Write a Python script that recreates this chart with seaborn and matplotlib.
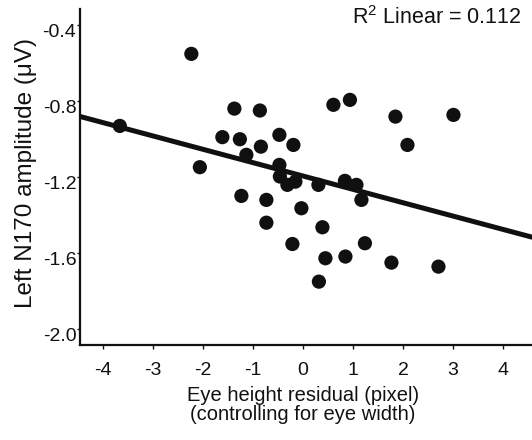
import matplotlib
matplotlib.use("Agg")
import matplotlib.pyplot as plt
import matplotlib.transforms as mtransforms
import seaborn as sns
import pandas as pd

# Data
eye_height_residual = [-3.66, -2.23, -2.06, -1.37, -0.86, -1.61, -1.26, -0.84, -1.13,
                       -0.47, -0.19, -0.47, -0.46, -0.31, -0.15, -1.23, -0.73, -0.03,
                       -0.73, -0.21, 0.31, 0.39, 0.45, 0.32, 0.61, 0.94, 0.84, 1.07,
                       1.17, 1.24, 0.85, 1.85, 2.09, 1.77, 2.71, 3.01]
left_n170_amplitude = [-0.932, -0.553, -1.149, -0.841, -0.851, -0.991, -1.002, -1.041, -1.084,
                       -0.979, -1.032, -1.137, -1.198, -1.242, -1.225, -1.300, -1.321, -1.365,
                       -1.441, -1.553, -1.242, -1.465, -1.628, -1.751, -0.821, -0.795, -1.221, -1.242,
                       -1.321, -1.549, -1.619, -0.883, -1.032, -1.651, -1.672, -0.874]
x_ticks = [-4, -3, -2, -1, 0, 1, 2, 3, 4]
y_ticks = [-0.4, -0.8, -1.2, -1.6, -2.0]
r2_text = r"R$^2$ Linear = 0.112"

df = pd.DataFrame({"x": eye_height_residual, "y": left_n170_amplitude})

sns.set_style("white")
plt.rcParams["font.family"] = ["Liberation Sans", "DejaVu Sans"]
plt.rcParams["mathtext.fontset"] = "custom"
plt.rcParams["mathtext.rm"] = "Liberation Sans"
plt.rcParams["axes.unicode_minus"] = False
plt.rcParams["text.color"] = "#111111"
plt.rcParams["axes.labelcolor"] = "#111111"
plt.rcParams["xtick.color"] = "#111111"
plt.rcParams["ytick.color"] = "#111111"

fig = plt.figure(figsize=(5.32, 4.40), dpi=100)
ax = fig.add_axes([0.150, 0.216, 0.85, 0.764])
ax.set_xlim(-4.46, 4.58)
ax.set_ylim(-2.084, -0.316)

sns.regplot(data=df, x="x", y="y", ax=ax, ci=None, truncate=False,
            scatter_kws=dict(s=105, color="#101010", edgecolor="none", alpha=1),
            line_kws=dict(color="#101010", lw=3.6))

ax.set_xlim(-4.46, 4.58)
ax.set_ylim(-2.084, -0.316)
for s in ["top", "right"]:
    ax.spines[s].set_visible(False)
for s in ["left", "bottom"]:
    ax.spines[s].set_color("#111111")
    ax.spines[s].set_linewidth(1.6)

ax.set_xticks(x_ticks)
ax.set_xticklabels([str(t) for t in x_ticks], fontsize=14)
ax.set_yticks(y_ticks)
ax.set_yticklabels([f"{t:.1f}" for t in y_ticks], fontsize=14)
ax.tick_params(axis="x", direction="out", length=3, width=1, bottom=True, pad=9)
ax.tick_params(axis="y", direction="out", length=2, width=1, left=True, pad=0.5)
off = mtransforms.ScaledTranslation(0, -6 / 100, fig.dpi_scale_trans)
for lab in ax.get_yticklabels():
    lab.set_transform(lab.get_transform() + off)

ax.set_xlabel("Eye height residual (pixel)\n(controlling for eye width)",
              fontsize=14.5, linespacing=1.0)
ax.set_ylabel("Left N170 amplitude (\u03bcV)", fontsize=17.5)
ax.xaxis.set_label_coords(0.493, -0.122)
ax.xaxis.label.set_va("top")
ax.yaxis.set_label_coords(-0.094, 0.513)

ax.text(522 / 532, 1 - 18 / 440, r2_text, transform=fig.transFigure,
        ha="right", va="center", fontsize=15.5)

fig.savefig("out.png", dpi=100)
